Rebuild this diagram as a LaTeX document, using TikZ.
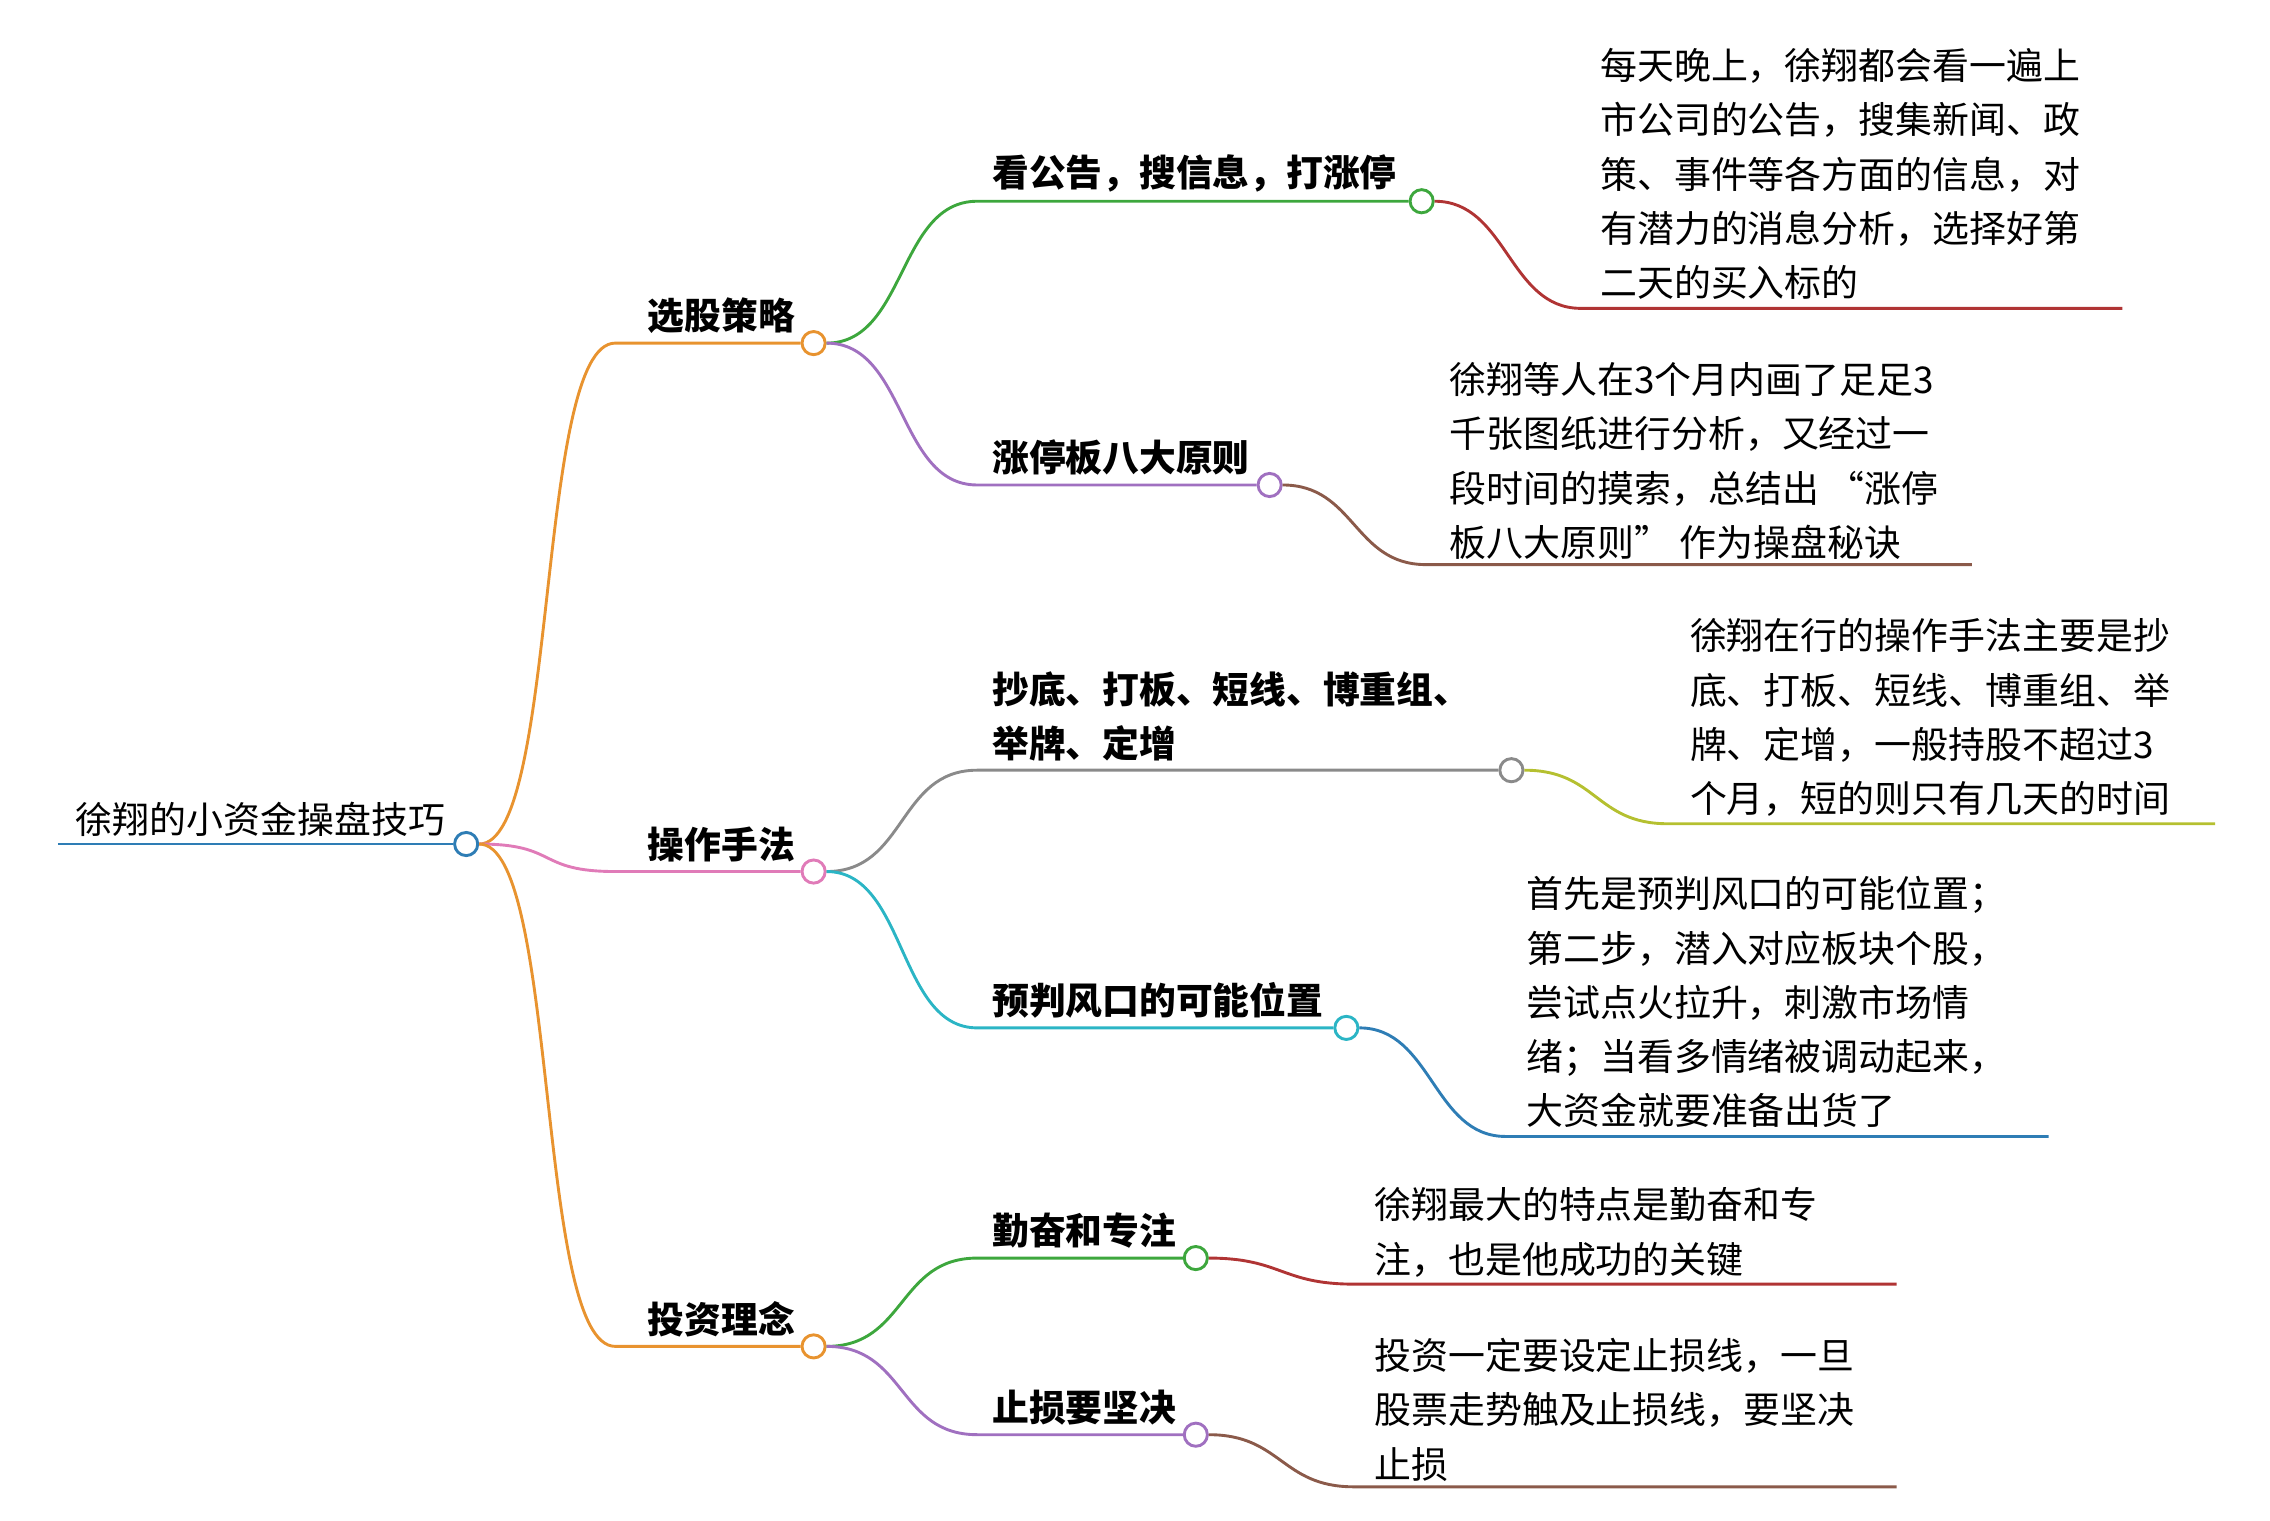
\documentclass[tikz,border=0pt]{standalone}
\usepackage{fontspec}
\setmainfont{Noto Sans CJK SC}
\begin{document}
\begin{tikzpicture}[x=0.5pt,y=-0.5pt,
  dot/.style={circle,draw=#1,fill=white,line width=1pt,minimum size=8pt,inner sep=0pt},
  br/.style={draw=#1,line width=1pt},
  lbl/.style={anchor=south west,inner sep=0pt,font=\fontsize{12.7}{18.75}\selectfont\bfseries},
  leaf/.style={anchor=north west,inner sep=0pt,align=left,font=\fontsize{12.75}{18.75}\selectfont}]
\useasboundingbox (0,0) rectangle (1568,1050);
\definecolor{cor}{HTML}{E8932F}\definecolor{cpk}{HTML}{E07BB8}
\definecolor{cgr}{HTML}{3DA73D}\definecolor{cpu}{HTML}{A070C0}
\definecolor{cre}{HTML}{B03434}\definecolor{cbr}{HTML}{8B5A4A}
\definecolor{cgy}{HTML}{8A8A8A}\definecolor{ccy}{HTML}{2BB5C5}
\definecolor{col}{HTML}{B5C030}\definecolor{cbl}{HTML}{2E7DB5}
\newcommand{\br}[5]{\draw[br=#1] (#2) .. controls +(#5,0) and +(-#5,0) .. (#3) -- (#4);}
% root
\coordinate (r0) at (40,583);
\node[dot=cbl] (root) at (322,583) {};
\draw[br=cbl] (r0) -- (root);
\node[anchor=base west,inner sep=0pt,font=\fontsize{12.75}{18.75}\selectfont] (rt) at (52,576) {徐翔的小资金操盘技巧};
% level 1
\node[dot=cor] (a) at (562,237) {};
\node[dot=cpk] (b) at (562,602) {};
\node[dot=cor] (c) at (562,930) {};
\coordinate (a0) at (425,237);\coordinate (b0) at (425,602);\coordinate (c0) at (425,930);
\br{cor}{root.east}{a0}{a.west}{55}
\br{cpk}{root.east}{b0}{b.west}{55}
\br{cor}{root.east}{c0}{c.west}{55}
\node[lbl] at (447,231) {选股策略};
\node[lbl] at (447,596) {操作手法};
\node[lbl] at (447,924) {投资理念};
% level 2
\node[dot=cgr] (a1) at (982,139) {};
\node[dot=cpu] (a2) at (877,335) {};
\node[dot=cgy] (b1) at (1044,532) {};
\node[dot=ccy] (b2) at (930,710) {};
\node[dot=cgr] (c1) at (826,869) {};
\node[dot=cpu] (c2) at (826,991) {};
\coordinate (a10) at (675,139);\coordinate (a20) at (675,335);
\coordinate (b10) at (675,532);\coordinate (b20) at (675,710);
\coordinate (c10) at (675,869);\coordinate (c20) at (675,991);
\br{cgr}{a.east}{a10}{a1.west}{55}
\br{cpu}{a.east}{a20}{a2.west}{55}
\br{cgy}{b.east}{b10}{b1.west}{55}
\br{ccy}{b.east}{b20}{b2.west}{55}
\br{cgr}{c.east}{c10}{c1.west}{55}
\br{cpu}{c.east}{c20}{c2.west}{55}
\node[lbl] at (685,133) {看公告，搜信息，打涨停};
\node[lbl] at (685,329) {涨停板八大原则};
\node[lbl,align=left] at (685,526) {抄底、打板、短线、博重组、\\举牌、定增};
\node[lbl] at (685,704) {预判风口的可能位置};
\node[lbl] at (685,863) {勤奋和专注};
\node[lbl] at (685,985) {止损要坚决};
% leaves
\coordinate (l1a) at (1092,213);\coordinate (l1b) at (1466,213);
\coordinate (l2a) at (985,390);\coordinate (l2b) at (1362,390);
\coordinate (l3a) at (1152,569);\coordinate (l3b) at (1530,569);
\coordinate (l4a) at (1040,785);\coordinate (l4b) at (1415,785);
\coordinate (l5a) at (935,887);\coordinate (l5b) at (1310,887);
\coordinate (l6a) at (935,1027);\coordinate (l6b) at (1310,1027);
\br{cre}{a1.east}{l1a}{l1b}{50}
\br{cbr}{a2.east}{l2a}{l2b}{50}
\br{col}{b1.east}{l3a}{l3b}{50}
\br{cbl}{b2.east}{l4a}{l4b}{50}
\br{cre}{c1.east}{l5a}{l5b}{50}
\br{cbr}{c2.east}{l6a}{l6b}{50}
\node[leaf] at (1105,33) {每天晚上，徐翔都会看一遍上\\市公司的公告，搜集新闻、政\\策、事件等各方面的信息，对\\有潜力的消息分析，选择好第\\二天的买入标的};
\node[leaf] at (1001,250) {徐翔等人在3个月内画了足足3\\千张图纸进行分析，又经过一\\段时间的摸索，总结出 “涨停\\板八大原则” 作为操盘秘诀};
\node[leaf] at (1167,427) {徐翔在行的操作手法主要是抄\\底、打板、短线、博重组、举\\牌、定增，一般持股不超过3\\个月，短的则只有几天的时间};
\node[leaf] at (1054,605) {首先是预判风口的可能位置；\\第二步，潜入对应板块个股，\\尝试点火拉升，刺激市场情\\绪；当看多情绪被调动起来，\\大资金就要准备出货了};
\node[leaf] at (949,820) {徐翔最大的特点是勤奋和专\\注，也是他成功的关键};
\node[leaf] at (949,924) {投资一定要设定止损线，一旦\\股票走势触及止损线，要坚决\\止损};
\end{tikzpicture}
\end{document}
